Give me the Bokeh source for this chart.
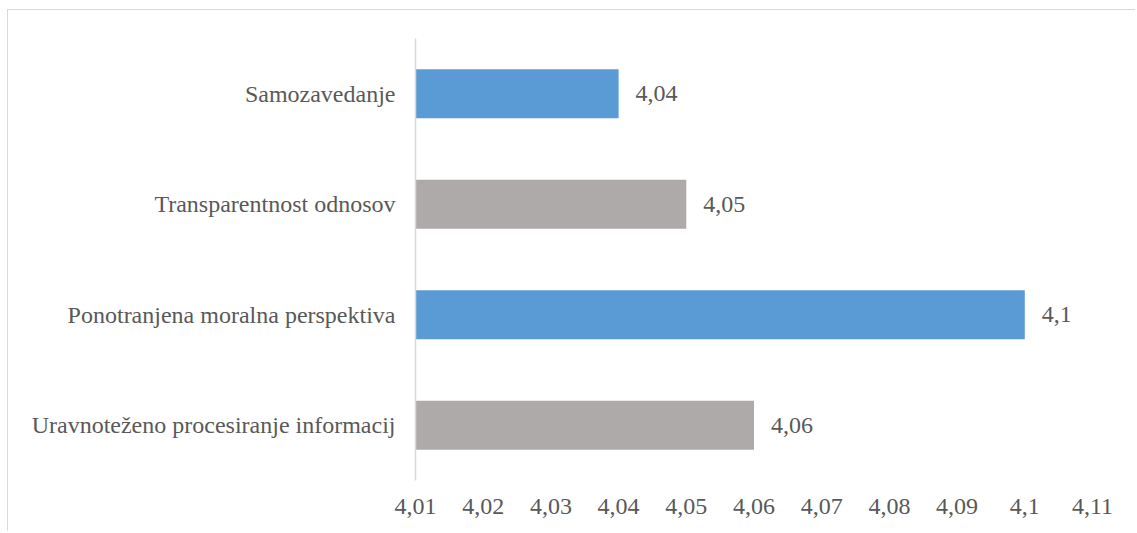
from bokeh.plotting import figure
from bokeh.models import FactorRange, Range1d, FixedTicker, CustomJSTickFormatter, ColumnDataSource
from bokeh.core.properties import value
from bokeh.embed import file_html
from bokeh.resources import INLINE

categories = ["Samozavedanje", "Transparentnost odnosov", "Ponotranjena moralna perspektiva",
              "Uravnoteženo procesiranje informacij"]
values = [4.04, 4.05, 4.10, 4.06]
value_labels = ["4,04", "4,05", "4,1", "4,06"]
bar_colors = ["#5B9BD5", "#AEAAAA", "#5B9BD5", "#AEAAAA"]
tick_values = [4.01, 4.02, 4.03, 4.04, 4.05, 4.06, 4.07, 4.08, 4.09, 4.10, 4.11]
tick_labels = ["4,01", "4,02", "4,03", "4,04", "4,05", "4,06", "4,07", "4,08", "4,09", "4,1", "4,11"]
x_min, x_max = 4.01, 4.11

FONT = "Liberation Serif"
TXT = "#595959"
FS = "24px"

# figure placed at (8, 10) with a left/top light border, like the clipped chart-area outline
p = figure(width=1128, height=522, output_backend="svg", toolbar_location=None,
           y_range=FactorRange(factors=list(reversed(categories)), range_padding=0),
           x_range=Range1d(x_min, x_max),
           min_border_left=407, min_border_right=44, min_border_top=28, min_border_bottom=52)
p.margin = (9, 0, 0, 7)
p.styles = {"border-left": "1.5px solid #D9D9D9", "border-top": "1.5px solid #D9D9D9"}
p.outline_line_color = None
p.xgrid.grid_line_color = None
p.ygrid.grid_line_color = None

src = ColumnDataSource(dict(cat=categories, val=values, lab=value_labels, col=bar_colors,
                            base=[x_min] * len(values)))
p.hbar(y="cat", left="base", right="val", height=0.445, color="col", line_color=None, source=src)
p.text(x="val", y="cat", text="lab", source=src, x_offset=17, text_baseline="middle",
       text_align="left", text_font=value(FONT), text_font_size=FS, text_color=TXT)

p.xaxis.ticker = FixedTicker(ticks=tick_values)
p.xaxis.formatter = CustomJSTickFormatter(args=dict(tvals=tick_values, tlabs=tick_labels), code="""
let best = 0, bd = 1e9;
for (let i = 0; i < tvals.length; i++) { const d = Math.abs(tvals[i] - tick); if (d < bd) { bd = d; best = i; } }
return tlabs[best];
""")
p.xaxis.axis_line_color = None
p.xaxis.major_tick_line_color = None
p.xaxis.minor_tick_line_color = None
p.xaxis.major_tick_out = 0
p.xaxis.major_label_standoff = 18
p.xaxis.major_label_text_font = FONT
p.xaxis.major_label_text_font_size = FS
p.xaxis.major_label_text_color = TXT

p.yaxis.axis_line_color = "#D9D9D9"
p.yaxis.axis_line_width = 1.5
p.yaxis.major_tick_line_color = None
p.yaxis.minor_tick_line_color = None
p.yaxis.major_tick_out = 0
p.yaxis.major_label_standoff = 20
p.yaxis.major_label_text_font = FONT
p.yaxis.major_label_text_font_size = FS
p.yaxis.major_label_text_color = TXT

open("out.html", "w").write(file_html(p, INLINE))
